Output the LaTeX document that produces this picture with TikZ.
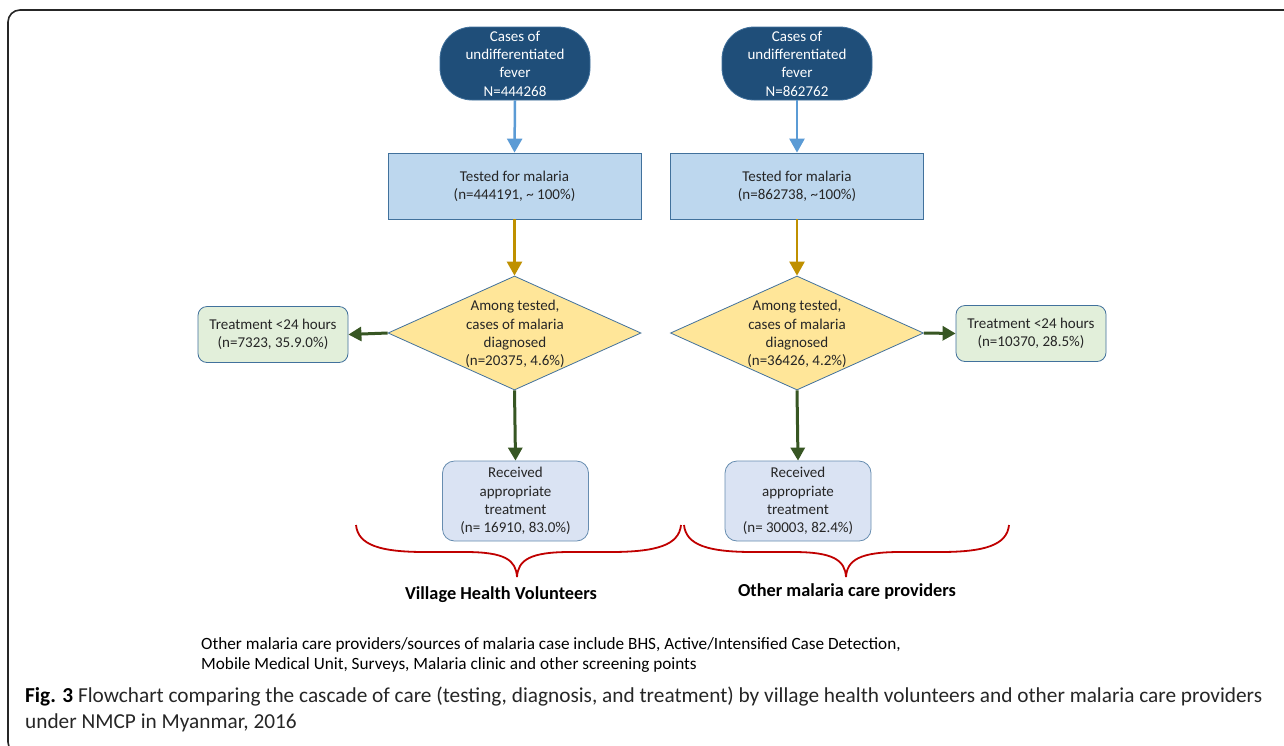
\documentclass[tikz,border=0pt]{standalone}
\usepackage{fontspec}
\setmainfont{Carlito}
\usetikzlibrary{arrows.meta,shapes.geometric}
\definecolor{navy}{HTML}{1F4E79}
\definecolor{edgeblue}{HTML}{41719C}
\definecolor{testfill}{HTML}{BDD7EE}
\definecolor{diafill}{HTML}{FFE699}
\definecolor{greenfill}{HTML}{E2EFDA}
\definecolor{recvfill}{HTML}{DAE3F3}
\definecolor{arrblue}{HTML}{5B9BD5}
\definecolor{arrgold}{HTML}{BF9000}
\definecolor{arrgreen}{HTML}{375623}
\definecolor{bracered}{HTML}{C00000}
\definecolor{txt}{HTML}{262626}
\tikzset{
  every node/.style={font=\fontsize{15}{18.3}\selectfont, text=txt, align=center, inner sep=0pt},
  startbox/.style={draw=edgeblue, fill=navy, text=white, rounded corners=32pt, minimum width=150pt, minimum height=73pt, line width=0.8pt},
  testbox/.style={draw=edgeblue, fill=testfill, minimum width=253pt, minimum height=66pt, line width=0.8pt},
  diabox/.style={diamond, draw=edgeblue, fill=diafill, minimum width=253pt, minimum height=114pt, line width=0.8pt},
  greenbox/.style={draw=edgeblue, fill=greenfill, rounded corners=9pt, minimum width=150pt, minimum height=56pt, line width=0.8pt},
  recvbox/.style={draw=edgeblue!80, fill=recvfill, rounded corners=12pt, minimum width=146pt, minimum height=80pt, line width=0.8pt},
  arrowA/.style={line width=2.5pt, color=arrblue, -{Triangle[length=14pt,width=15pt]}},
  arrowB/.style={line width=2.5pt, color=arrgold, -{Triangle[length=14pt,width=15pt]}},
  arrowC/.style={line width=3pt, color=arrgreen, -{Triangle[length=13pt,width=14pt]}},
  bracestyle/.style={line width=1.8pt, color=bracered},
  grouplabel/.style={font=\fontsize{18.3}{20}\selectfont\bfseries, text=black},
  notetext/.style={font=\fontsize{17.2}{20}\selectfont, text=black, anchor=west},
  captext/.style={font=\fontsize{21.3}{24}\selectfont, text=black!85, anchor=west},
}
\begin{document}
\begin{tikzpicture}[x=1pt,y=-1pt]
\useasboundingbox (0,0) rectangle (1284,745);
\fill[white] (0,0) rectangle (1284,745);
% frame
\draw[line width=1.6pt, rounded corners=12pt, color=black!85] (60,754) -- (8,754) -- (8,10) -- (1300,10);

% left column
\node[startbox] (s1) at (515,63.5) {Cases of\\undifferentiated\\fever\\N=444268};
\node[testbox] (t1) at (514.5,186) {Tested for malaria\\(n=444191, \textasciitilde{} 100\%)};
\node[diabox] (d1) at (514.5,333) {};
\node at (515,334) {Among tested,\\cases of malaria\\diagnosed\\(n=20375, 4.6\%)};
\node[greenbox] (g1) at (273,334.5) {Treatment <24 hours\\(n=7323, 35.9.0\%)};
\node[recvbox] (r1) at (515.5,501) {Received\\appropriate\\treatment\\(n= 16910, 83.0\%)};

% right column
\node[startbox] (s2) at (797,63.5) {Cases of\\undifferentiated\\fever\\N=862762};
\node[testbox] (t2) at (797,186) {Tested for malaria\\(n=862738, \textasciitilde{}100\%)};
\node[diabox] (d2) at (797,333) {};
\node at (797,334) {Among tested,\\cases of malaria\\diagnosed\\(n=36426, 4.2\%)};
\node[greenbox] (g2) at (1031,333.5) {Treatment <24 hours\\(n=10370, 28.5\%)};
\node[recvbox] (r2) at (798,501) {Received\\appropriate\\treatment\\(n= 30003, 82.4\%)};

% connectors
\draw[arrowA] (s1.south) -- (t1.north);
\draw[arrowB] (t1.south) -- (d1.north);
\draw[arrowC] (d1.west) -- (g1.east);
\draw[arrowC] (d1.south) -- (r1.north);
\draw[arrowA] (s2.south) -- (t2.north);
\draw[arrowB] (t2.south) -- (d2.north);
\draw[arrowC] (d2.east) -- (g2.west);
\draw[arrowC] (d2.south) -- (r2.north);

% braces
\coordinate (b1l) at (356,525);
\coordinate (b1t) at (517,577);
\coordinate (b1r) at (681,525);
\draw[bracestyle] (b1l) .. controls (358,545) and (380,552) .. (425,552) -- (465,552) .. controls (505,552) and (516,560) .. (b1t);
\draw[bracestyle] (b1r) .. controls (679,545) and (657,552) .. (610,552) -- (570,552) .. controls (530,552) and (518,560) .. (b1t);
\coordinate (b2l) at (684,525);
\coordinate (b2t) at (846,577);
\coordinate (b2r) at (1009,525);
\draw[bracestyle] (b2l) .. controls (686,545) and (708,552) .. (753,552) -- (793,552) .. controls (833,552) and (845,560) .. (b2t);
\draw[bracestyle] (b2r) .. controls (1007,545) and (985,552) .. (940,552) -- (900,552) .. controls (860,552) and (847,560) .. (b2t);

\node[grouplabel] (l1) at (501,595) {Village Health Volunteers};
\node[grouplabel] (l2) at (847,592) {Other malaria care providers};

\node[notetext] (n1) at (201,645) {Other malaria care providers/sources of malaria case include BHS, Active/Intensified Case Detection,};
\node[notetext] (n2) at (201,665) {Mobile Medical Unit, Surveys, Malaria clinic and other screening points};

\node[captext] (c1) at (25,697) {\textbf{\color{black}Fig. 3} Flowchart comparing the cascade of care (testing, diagnosis, and treatment) by village health volunteers and other malaria care providers};
\node[captext] (c2) at (25,723) {under NMCP in Myanmar, 2016};
\end{tikzpicture}
\end{document}
